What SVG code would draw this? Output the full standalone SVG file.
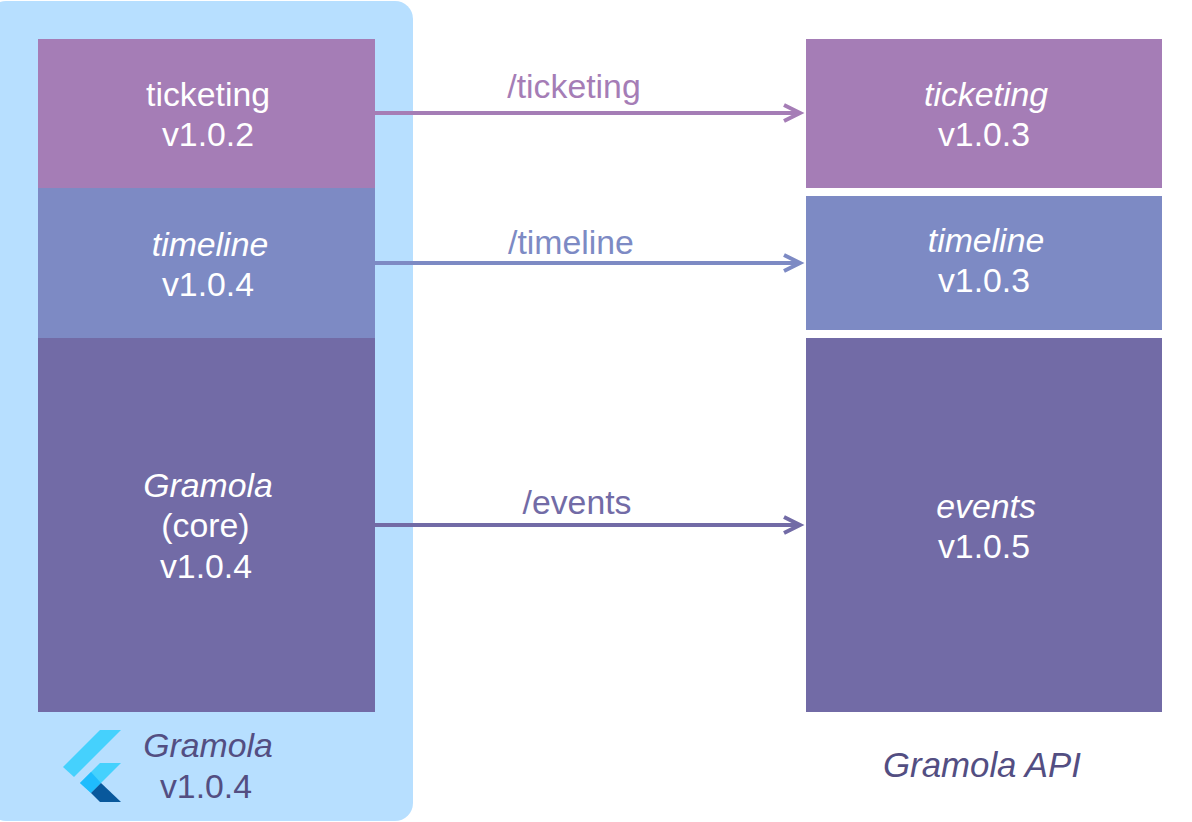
<svg xmlns="http://www.w3.org/2000/svg" width="1192" height="822" viewBox="0 0 1192 822">
<style>
text{font-family:"Liberation Sans",Arial,sans-serif;font-size:33.8px;text-anchor:middle}
.w{fill:#fff}.d{fill:#534e82}.i{font-style:italic}
.p{fill:#a57db6}.b{fill:#7d8ac4}.v{fill:#726ba6}
.c{fill:none;stroke-width:4}
</style>
<defs>
<marker id="ap" markerUnits="userSpaceOnUse" markerWidth="30" markerHeight="30" refX="20" refY="10" orient="auto" overflow="visible"><path d="M4 2L20 10L4 18" fill="none" stroke="#a57db6" stroke-width="4"/></marker>
<marker id="ab" markerUnits="userSpaceOnUse" markerWidth="30" markerHeight="30" refX="20" refY="10" orient="auto" overflow="visible"><path d="M4 2L20 10L4 18" fill="none" stroke="#7d8ac4" stroke-width="4"/></marker>
<marker id="av" markerUnits="userSpaceOnUse" markerWidth="30" markerHeight="30" refX="20" refY="10" orient="auto" overflow="visible"><path d="M4 2L20 10L4 18" fill="none" stroke="#726ba6" stroke-width="4"/></marker>
</defs>
<rect width="1192" height="822" fill="#fff"/>
<g id="app">
<rect x="-12" y="1" width="425" height="820" rx="18" fill="#b7dfff"/>
<g id="flutter-logo">
<polygon points="63,767 100,730 121,730 74,777" fill="#45d1fd"/>
<polygon points="80,783 100,763 121,763 91,793" fill="#45d1fd"/>
<polygon points="80,783 91,772 101,783 91,793" fill="#1fbcfd"/>
<polygon points="91,793 101,783 121,802 100,802" fill="#08589c"/>
</g>
<text class="d i" x="208" y="757">Gramola</text>
<text class="d" x="206" y="798">v1.0.4</text>
</g>
<g id="ticketing-client"><rect class="p" x="38" y="39" width="337" height="149"/><text class="w" x="208" y="106">ticketing</text><text class="w" x="208" y="146">v1.0.2</text></g>
<g id="timeline-client"><rect class="b" x="38" y="188" width="337" height="150"/><text class="w i" x="210" y="256">timeline</text><text class="w" x="208" y="296">v1.0.4</text></g>
<g id="core-client"><rect class="v" x="38" y="338" width="337" height="374"/><text class="w i" x="208" y="497">Gramola</text><text class="w" x="205.500" y="537">(core)</text><text class="w" x="206" y="578">v1.0.4</text></g>
<g id="ticketing-api"><rect class="p" x="806" y="39" width="356" height="149"/><text class="w i" x="986" y="106">ticketing</text><text class="w" x="984" y="146">v1.0.3</text></g>
<g id="timeline-api"><rect class="b" x="806" y="196" width="356" height="134"/><text class="w i" x="986" y="252">timeline</text><text class="w" x="984" y="292">v1.0.3</text></g>
<g id="events-api"><rect class="v" x="806" y="338" width="356" height="374"/><text class="w i" x="986" y="518">events</text><text class="w" x="984" y="558">v1.0.5</text></g>
<text class="d i" x="982" y="777" id="api-label" style="font-size:34.8px">Gramola API</text>
<g id="connectors">
<line class="c" x1="375" y1="113" x2="800" y2="113" stroke="#a57db6" marker-end="url(#ap)"/>
<line class="c" x1="375" y1="263" x2="800" y2="263" stroke="#7d8ac4" marker-end="url(#ab)"/>
<line class="c" x1="375" y1="525" x2="800" y2="525" stroke="#726ba6" marker-end="url(#av)"/>
<text class="p" x="574" y="98">/ticketing</text>
<text class="b" x="571" y="254">/timeline</text>
<text class="v" x="577" y="514">/events</text>
</g>
</svg>
